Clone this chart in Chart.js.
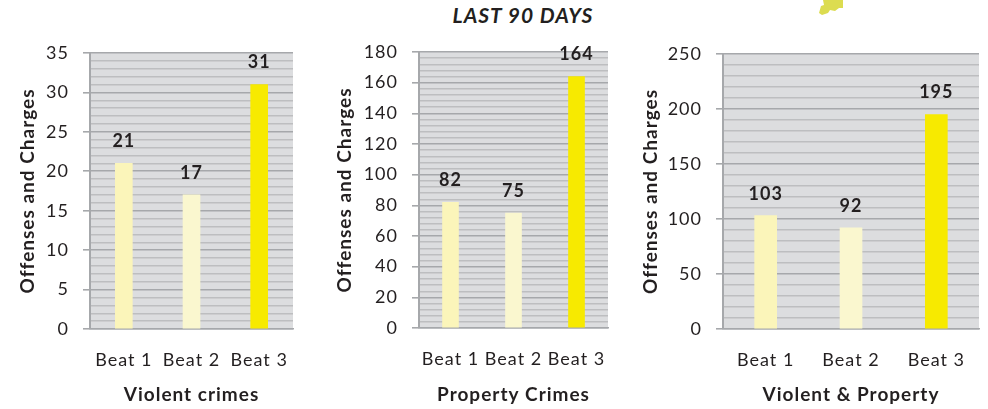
<!DOCTYPE html>
<html><head><meta charset="utf-8">
<style>
html,body{margin:0;padding:0;background:#fff;width:988px;height:409px;overflow:hidden}
canvas{position:absolute;top:0}
#t{position:absolute;left:423px;width:200px;top:2px;text-align:center;font:italic bold 21px Lato,sans-serif;letter-spacing:1px;color:#231f20}
#leaf{position:absolute;left:818px;top:0}
</style>
<script src="https://cdn.jsdelivr.net/npm/chart.js@4"></script>
</head><body>
<div id="t">LAST 90 DAYS</div>
<svg id="leaf" width="28" height="18"><polygon points="1,13 3,6 6,5 5,0 25,0 25,8 21,8 17,11 12,10 10,13 4,15" fill="#dcdc50"/></svg>
<canvas id="c1" width="320" height="409" style="left:0;width:320px;height:409px"></canvas>
<canvas id="c2" width="310" height="409" style="left:325px;width:310px;height:409px"></canvas>
<canvas id="c3" width="353" height="409" style="left:635px;width:353px;height:409px"></canvas>
<script>
const categories = ['Beat 1','Beat 2','Beat 3'];
const violentValues = [21,17,31];
const propertyValues = [82,75,164];
const combinedValues = [103,92,195];
const barColors = ['#FBF5BA','#FAF7CF','#F7EA00'];
const FONT = 'Lato, sans-serif', INK = '#231f20';

const plotBg = {id:'plotBg',
  beforeDraw(c){const a=c.chartArea,x=c.ctx;x.letterSpacing='1px';x.save();x.fillStyle='#DCDDDF';x.fillRect(a.left,a.top,a.width,a.height);x.restore();}};
const valueLabels = {id:'valueLabels',afterDatasetsDraw(c){
  const x=c.ctx,m=c.getDatasetMeta(0);x.save();x.font='bold 18px '+FONT;x.fillStyle=INK;x.textAlign='center';x.textBaseline='middle';
  m.data.forEach((b,i)=>x.fillText(String(c.data.datasets[0].data[i]),b.x,b.y-22));x.restore();}};

function make(id,w,values,title,max,major,minor,left,right,top,bottom,barW,titlePad){
  new Chart(document.getElementById(id),{type:'bar',
    data:{labels:categories,datasets:[{data:values,backgroundColor:barColors,barThickness:barW}]},
    plugins:[plotBg,valueLabels],
    options:{responsive:false,animation:false,devicePixelRatio:1,
      layout:{padding:{left:0,right:w-right,top:top,bottom:0}},
      plugins:{legend:{display:false},tooltip:{enabled:false}},
      scales:{
        x:{afterFit(s){s.height=409-bottom;s.paddingLeft=0;s.paddingRight=0;},
          grid:{display:false,drawTicks:false},border:{color:'#A6A8AB',width:1.5},
          ticks:{color:INK,font:{family:FONT,size:18},padding:20,maxRotation:0,autoSkip:false},
          title:{display:true,text:title,color:INK,font:{family:FONT,size:19,weight:'bold'},padding:{top:8,bottom:3}}},
        y:{min:0,max:max,afterFit(s){s.width=left;},
          afterBuildTicks(s){s.ticks=[];for(let v=0;v<=max;v+=minor)s.ticks.push({value:v});},
          grid:{lineWidth:c=>c.tick.value%major===0?1.6:1.4,color:c=>c.tick.value%major===0?'#A6A8AB':'#BDBEC0',
            tickColor:c=>c.tick.value%major===0?'#A6A8AB':'rgba(0,0,0,0)',tickLength:7},
          border:{color:'#A6A8AB',width:2},
          ticks:{color:INK,font:{family:FONT,size:18},padding:14,autoSkip:false,
            callback:v=>v%major===0?String(v):''},
          title:{display:true,text:'Offenses and Charges',color:INK,font:{family:FONT,size:19,weight:'bold'},padding:{top:titlePad,bottom:0}}}
      }}});
}
make('c1',320,violentValues,'Violent crimes',35,5,1,90,293,53,329,17,16);
make('c2',310,propertyValues,'Property Crimes',180,20,4,94,283,52,328,16,8);
make('c3',353,combinedValues,'Violent & Property',250,50,10,88,344,54,329,22,4);
</script>
</body></html>
